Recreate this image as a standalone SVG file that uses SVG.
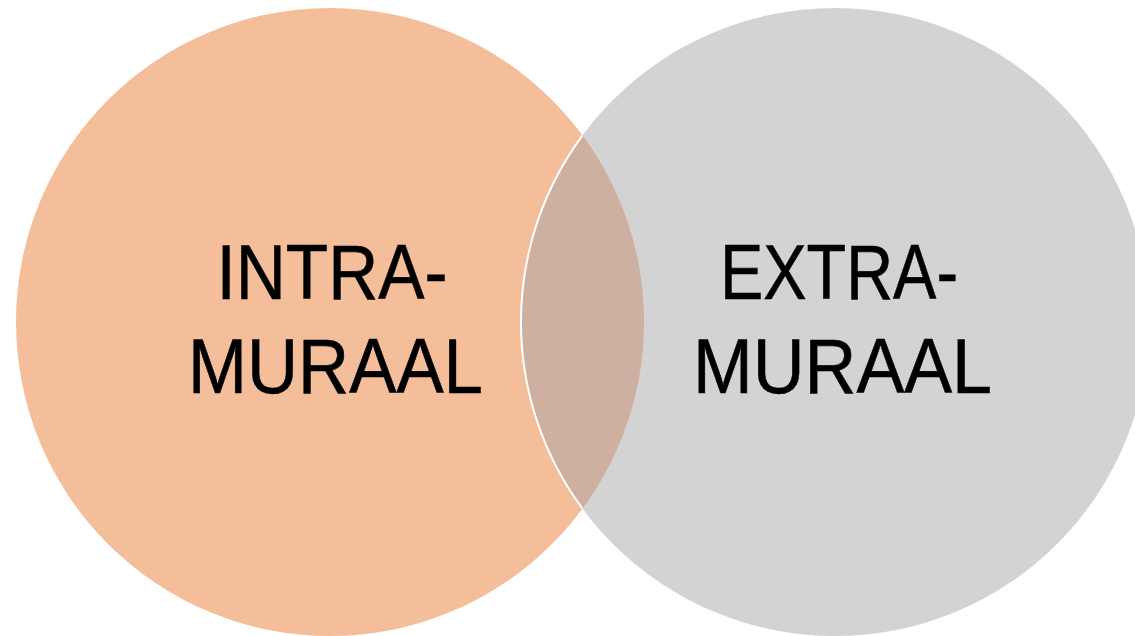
<svg xmlns="http://www.w3.org/2000/svg" width="1135" height="636" viewBox="0 0 1135 636">
  <style>
    .lbl { font-family: "Liberation Sans", Arial, sans-serif; font-size: 78px; fill: #000000; stroke: #000000; stroke-width: 0.6; text-anchor: middle; }
  </style>
  <rect x="0" y="0" width="1135" height="636" fill="#FFFFFF"/>
  <g id="intramuraal">
    <circle cx="330" cy="322" r="314" fill="#F5BE9A"/>
  </g>
  <g id="extramuraal">
    <circle cx="835" cy="322" r="314" fill="#D3D3D3"/>
  </g>
  <g id="overlap">
    <path d="M 582.5 135.3 A 314 314 0 0 0 582.5 508.7 A 314 314 0 0 0 582.5 135.3 Z" fill="#CDB0A0"/>
    <path d="M 582.5 135.3 A 314 314 0 0 0 582.5 508.7" fill="none" stroke="#FFFFFF" stroke-width="2"/>
  </g>
  <g id="intramuraal-label">
    <text class="lbl" x="332" y="299" textLength="231" lengthAdjust="spacingAndGlyphs">INTRA-</text>
    <text class="lbl" x="335.5" y="393" textLength="295" lengthAdjust="spacingAndGlyphs">MURAAL</text>
  </g>
  <g id="extramuraal-label">
    <text class="lbl" x="839" y="299" textLength="238" lengthAdjust="spacingAndGlyphs">EXTRA-</text>
    <text class="lbl" x="842.5" y="393" textLength="299" lengthAdjust="spacingAndGlyphs">MURAAL</text>
  </g>
</svg>
